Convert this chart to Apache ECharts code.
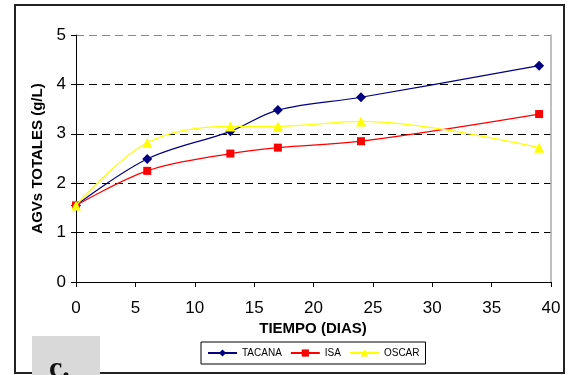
<!DOCTYPE html>
<html><head><meta charset="utf-8">
<script src="https://cdn.jsdelivr.net/npm/echarts@6/dist/echarts.min.js"></script>
<style>html,body{margin:0;padding:0;background:#fff}#c{width:570px;height:375px}</style>
</head><body><div id="c"></div>
<script>
var days = [0, 6, 13, 17, 24, 39];
var tacana = [1.55, 2.49, 3.05, 3.48, 3.74, 4.38];
var isa = [1.55, 2.25, 2.6, 2.72, 2.85, 3.4];
var oscar = [1.55, 2.82, 3.15, 3.15, 3.25, 2.72];
var seriesNames = ['TACANA', 'ISA', 'OSCAR'];
var xTitle = 'TIEMPO (DIAS)';
var yTitle = 'AGVs TOTALES (g/L)';
var panelLabel = 'c.';

function pairs(v){ return days.map(function(d,i){ return [d, v[i]]; }); }
var chart = echarts.init(document.getElementById('c'), null, {renderer:'canvas'});
var font = 'Liberation Sans, Arial, sans-serif';
chart.setOption({
  animation:false,
  backgroundColor:'#fff',
  grid:{left:76, top:35, right:19, bottom:93},
  graphic:[
    {type:'rect', shape:{x:15, y:5, width:549, height:368}, style:{fill:'none', stroke:'#222', lineWidth:2}, z:0},
    {type:'rect', shape:{x:32, y:336, width:68, height:40}, style:{fill:'#d9d9d9'}, z:1},
    {type:'text', x:49, y:354, style:{text:panelLabel, font:'bold 30px "Liberation Serif", serif', fill:'#111'}, z:2},
    {type:'text', x:313, y:321, style:{text:xTitle, font:'bold 15px ' + font, fill:'#000', textAlign:'center'}, z:2}
  ],
  legend:{
    left:201, top:342,
    data:seriesNames,
    itemWidth:29, itemHeight:9, itemGap:8,
    padding:[6,6,6,6],
    borderColor:'#000', borderWidth:1, backgroundColor:'#fff',
    textStyle:{fontFamily:font, fontSize:10, color:'#000', padding:[0,0,0,0]}
  },
  xAxis:{
    type:'value', min:0, max:40, interval:5,
    axisLine:{lineStyle:{color:'#000', width:1}},
    axisTick:{show:true, length:5, lineStyle:{color:'#000'}},
    axisLabel:{fontFamily:font, fontSize:17, color:'#000', margin:18},
    splitLine:{show:false}
  },
  yAxis:[{
    type:'value', min:0, max:5, interval:1,
    name:yTitle, nameLocation:'middle', nameGap:30,
    nameTextStyle:{fontFamily:font, fontSize:15, fontWeight:'bold', color:'#000'},
    axisLine:{show:true, lineStyle:{color:'#000', width:1}},
    axisTick:{show:true, length:5, lineStyle:{color:'#000'}},
    axisLabel:{fontFamily:font, fontSize:17, color:'#000', margin:10},
    splitLine:{show:true, lineStyle:{color:['#000','#000','#000','#000','#000','#888'], type:[8,5], width:1}}
  },{
    type:'value', min:0, max:5, interval:1, position:'right',
    axisLine:{show:true, lineStyle:{color:'#aaa', width:1.5}},
    axisTick:{show:false}, axisLabel:{show:false}, splitLine:{show:false}
  }],
  series:[
    {name:seriesNames[0], type:'line', data:pairs(tacana), smooth:0.35, symbol:'diamond', symbolSize:10,
     itemStyle:{color:'#000080'}, lineStyle:{color:'#000080', width:1.2}, z:3},
    {name:seriesNames[1], type:'line', data:pairs(isa), smooth:0.35, symbol:'rect', symbolSize:8,
     itemStyle:{color:'#ff0000'}, lineStyle:{color:'#ff0000', width:1.2}, z:3},
    {name:seriesNames[2], type:'line', data:pairs(oscar), smooth:0.35, symbol:'triangle', symbolSize:10,
     itemStyle:{color:'#ffff00'}, lineStyle:{color:'#ffff00', width:1.2}, z:4}
  ]
});
</script></body></html>
